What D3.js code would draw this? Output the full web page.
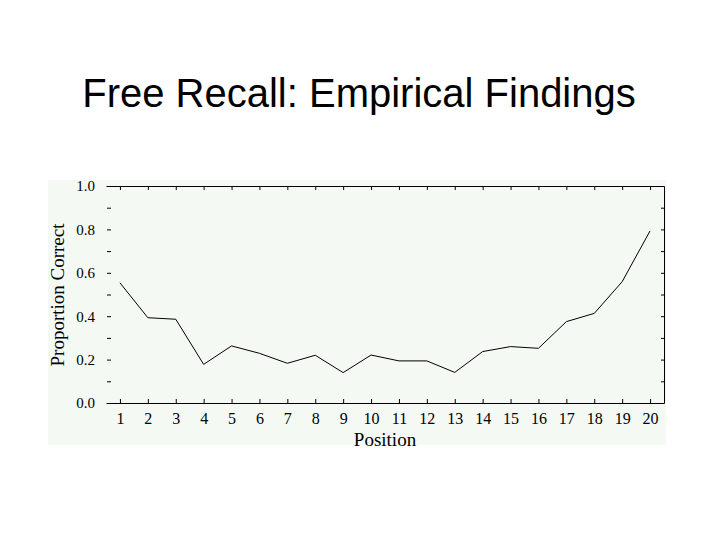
<!DOCTYPE html>
<html>
<head>
<meta charset="utf-8">
<script src="https://cdn.jsdelivr.net/npm/d3@7/dist/d3.min.js"></script>
<style>
    body { margin: 0; background: #ffffff; }
    svg { display: block; }
</style>
</head>
<body>
<svg id="chart" width="720" height="540"></svg>
<script>
// serial position curve
var positions = [1, 2, 3, 4, 5, 6, 7, 8, 9, 10, 11, 12, 13, 14, 15, 16, 17, 18, 19, 20];
var proportionCorrect = [0.554, 0.393, 0.386, 0.178, 0.263, 0.229, 0.183, 0.220, 0.140, 0.221,
                         0.194, 0.194, 0.141, 0.237, 0.260, 0.252, 0.375, 0.413, 0.559, 0.793];
var yTickValues = [0, 0.1, 0.2, 0.3, 0.4, 0.5, 0.6, 0.7, 0.8, 0.9, 1.0];
var yTickLabels = ["0.0", "", "0.2", "", "0.4", "", "0.6", "", "0.8", "", "1.0"];

(function(d3) {

    var svg = d3.select("#chart");
    var serif = "'Liberation Serif', 'DejaVu Serif', serif";

    // title
    svg.append("text")
        .attr("x", 359)
        .attr("y", 107)
        .attr("text-anchor", "middle")
        .attr("font-family", "'Liberation Sans', Arial, sans-serif")
        .attr("font-size", 40)
        .style("fill", "#000")
        .text("Free Recall: Empirical Findings");

    // pasted plot background
    svg.append("rect")
        .attr("x", 48)
        .attr("y", 180)
        .attr("width", 618)
        .attr("height", 265)
        .style("fill", "#f4f9f4");

    var x = d3.scaleLinear().domain([0.5, 20.5]).range([106, 664]);
    var y = d3.scaleLinear().domain([0, 1]).range([403, 186]);

    var axisStyle = function(g) {
        g.selectAll("path, line").attr("stroke", "#000").attr("stroke-width", 1);
        g.selectAll("text").attr("font-family", serif).style("fill", "#000");
    };

    // bottom axis, ticks point up into the plot
    svg.append("g")
        .attr("transform", "translate(0,403)")
        .call(d3.axisBottom(x)
            .tickValues(positions)
            .tickSizeInner(-4)
            .tickSizeOuter(0)
            .tickPadding(10)
            .tickFormat(function(d) { return d; }))
        .call(axisStyle)
        .selectAll("text")
        .attr("font-size", 16);

    // top frame line with ticks pointing down
    svg.append("g")
        .attr("transform", "translate(0,186)")
        .call(d3.axisTop(x)
            .tickValues(positions)
            .tickSizeInner(-4)
            .tickSizeOuter(0)
            .tickFormat(""))
        .call(axisStyle);

    // right frame line with inward ticks
    svg.append("g")
        .attr("transform", "translate(664,0)")
        .call(d3.axisRight(y)
            .tickValues(yTickValues)
            .tickSizeInner(-3)
            .tickSizeOuter(0)
            .tickFormat(""))
        .call(axisStyle);

    // left ticks and labels, no spine
    var left = svg.append("g")
        .attr("transform", "translate(111,0)")
        .call(d3.axisLeft(y)
            .tickValues(yTickValues)
            .tickSize(4)
            .tickPadding(12)
            .tickFormat(function(d, i) { return yTickLabels[i]; }))
        .call(axisStyle);
    left.select(".domain").remove();
    left.selectAll("text").attr("font-size", 15);

    // the curve
    var line = d3.line()
        .x(function(d, i) { return x(positions[i]); })
        .y(function(d) { return y(d); });

    svg.append("path")
        .datum(proportionCorrect)
        .attr("d", line)
        .attr("fill", "none")
        .attr("stroke", "#000")
        .attr("stroke-width", 1);

    // axis titles
    svg.append("text")
        .attr("x", 385)
        .attr("y", 446)
        .attr("text-anchor", "middle")
        .attr("font-family", serif)
        .attr("font-size", 19)
        .style("fill", "#000")
        .text("Position");

    svg.append("text")
        .attr("transform", "translate(64,295) rotate(-90)")
        .attr("text-anchor", "middle")
        .attr("font-family", serif)
        .attr("font-size", 19)
        .style("fill", "#000")
        .text("Proportion Correct");

})(d3);
</script>
</body>
</html>
